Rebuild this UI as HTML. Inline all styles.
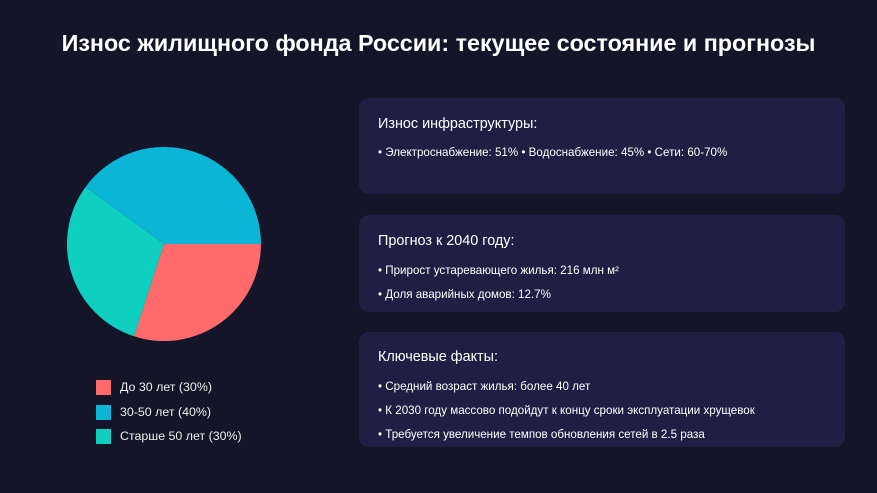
<!DOCTYPE html>
<html><head><meta charset="utf-8"><style>
html,body{margin:0;padding:0}
body{width:877px;height:493px;background:#151529;font-family:"Liberation Sans",sans-serif;color:#fff;position:relative;overflow:hidden}
h1{position:absolute;top:27px;left:0;width:877px;text-align:center;margin:0;font-size:23.3px;font-weight:bold;line-height:32px}
.card{position:absolute;left:359px;width:486px;background:#1f1f44;border-radius:10px}
.h{position:absolute;left:19px;font-size:14.4px}
.b{position:absolute;left:19px;font-size:11.6px;white-space:nowrap}
.lg{position:absolute;left:96px;width:15px;height:15px}
.lt{position:absolute;left:120px;font-size:12.4px;line-height:15px;color:#eee}
</style></head><body>
<h1>Износ жилищного фонда России: текущее состояние и прогнозы</h1>
<svg style="position:absolute;left:0;top:0" width="877" height="493">
<path d="M164,244 L261,244 A97,97 0 0 1 134,336.3 Z" fill="#ff6b6b"/>
<path d="M164,244 L134,336.3 A97,97 0 0 1 85.5,187 Z" fill="#0fcfc0"/>
<path d="M164,244 L85.5,187 A97,97 0 0 1 261,244 Z" fill="#0bb5d6"/>
</svg>
<div class="lg" style="top:380px;background:#ff6b6b"></div><div class="lt" style="top:380px">До 30 лет (30%)</div>
<div class="lg" style="top:405px;background:#0bb5d6"></div><div class="lt" style="top:405px">30-50 лет (40%)</div>
<div class="lg" style="top:429px;background:#0fcfc0"></div><div class="lt" style="top:429px">Старше 50 лет (30%)</div>
<div class="card" style="top:98px;height:96px">
<div class="h" style="top:18px">Износ инфраструктуры:</div>
<div class="b" style="top:48px">• Электроснабжение: 51% • Водоснабжение: 45% • Сети: 60-70%</div>
</div>
<div class="card" style="top:215px;height:97px">
<div class="h" style="top:18px">Прогноз к 2040 году:</div>
<div class="b" style="top:49px">• Прирост устаревающего жилья: 216 млн м²</div>
<div class="b" style="top:73px">• Доля аварийных домов: 12.7%</div>
</div>
<div class="card" style="top:332px;height:115px">
<div class="h" style="top:17px">Ключевые факты:</div>
<div class="b" style="top:48px">• Средний возраст жилья: более 40 лет</div>
<div class="b" style="top:72px">• К 2030 году массово подойдут к концу сроки эксплуатации хрущевок</div>
<div class="b" style="top:96px">• Требуется увеличение темпов обновления сетей в 2.5 раза</div>
</div>
</body></html>
